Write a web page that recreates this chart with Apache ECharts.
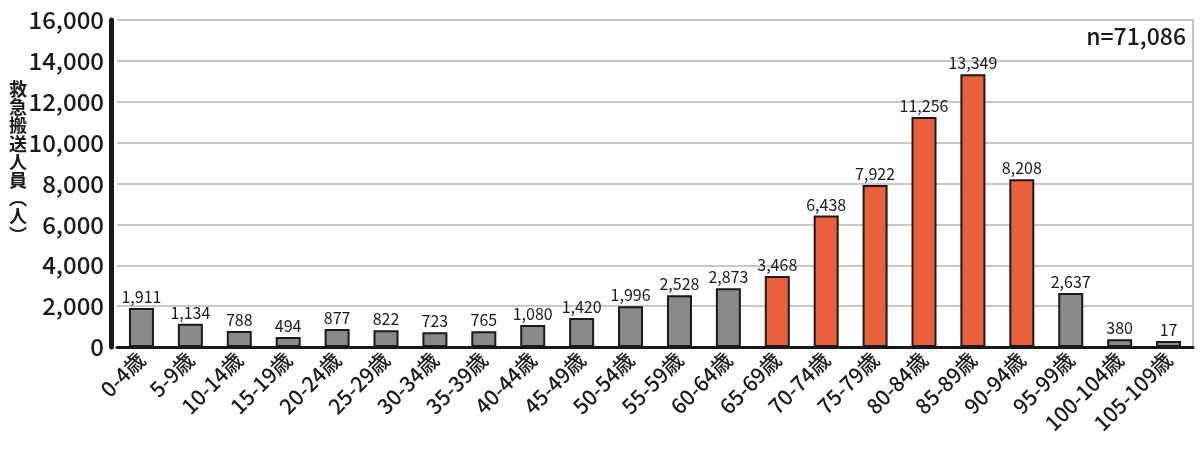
<!DOCTYPE html>
<html><head><meta charset="utf-8">
<script src="https://cdn.jsdelivr.net/npm/echarts@6/dist/echarts.min.js"></script>
<style>html,body{margin:0;padding:0;background:#fff}#c{width:1200px;height:455px}</style>
</head><body><div id="c"></div>
<script>
const categories = ['0-4歳','5-9歳','10-14歳','15-19歳','20-24歳','25-29歳','30-34歳','35-39歳','40-44歳','45-49歳','50-54歳','55-59歳','60-64歳','65-69歳','70-74歳','75-79歳','80-84歳','85-89歳','90-94歳','95-99歳','100-104歳','105-109歳'];
const values = [1911,1134,788,494,877,822,723,765,1080,1420,1996,2528,2873,3468,6438,7922,11256,13349,8208,2637,380,17];
const highlighted = ['65-69歳','70-74歳','75-79歳','80-84歳','85-89歳','90-94歳'];
const yTicks = [0,2000,4000,6000,8000,10000,12000,14000,16000];
const yName = '救急搬送人員︵人︶';
const totalLabel = 'n=71,086';

const FONT = '"Noto Sans CJK JP","Noto Sans",sans-serif';
const chart = echarts.init(document.getElementById('c'));
chart.setOption({
  animation:false,
  textStyle:{fontFamily:FONT},
  grid:{left:117,right:7,top:20,bottom:108},
  graphic:[
    {type:'text',left:9,top:80,style:{text:yName.split('').join('\n'),font:'bold 18px '+FONT,lineHeight:18.2,fill:'#1a1a1a',align:'center'}},
    {type:'text',right:14,top:25,style:{text:totalLabel,font:'500 23px '+FONT,fill:'#1a1a1a'}}
  ],
  xAxis:{type:'category',data:categories,
    axisLine:{lineStyle:{color:'#1a1a1a',width:3}},
    axisTick:{show:false},
    axisLabel:{rotate:45,fontSize:21,color:'#1a1a1a',margin:9,interval:0,fontFamily:FONT,fontWeight:500}},
  yAxis:[{type:'value',min:0,max:16000,interval:2000,offset:6,
    axisLine:{show:true,lineStyle:{color:'#1a1a1a',width:5}},
    axisTick:{show:false},
    splitLine:{lineStyle:{color:'#c8c8c8',width:2}},
    axisLabel:{fontSize:24,color:'#1a1a1a',margin:7,fontFamily:FONT,fontWeight:500,
      formatter:v=>yTicks.includes(v)?v.toLocaleString('en-US'):''}},
   {type:'value',position:'right',min:0,max:16000,interval:2000,
    axisLine:{show:true,lineStyle:{color:'#c4c4c4',width:2}},
    axisTick:{show:false},axisLabel:{show:false},splitLine:{show:false}}],
  series:[{type:'bar',barWidth:25,barMinHeight:6,yAxisIndex:0,
    data:values.map((v,i)=>({value:v,itemStyle:{color:highlighted.includes(categories[i])?'#e8603c':'#8a8a8a'}})),
    itemStyle:{borderColor:'#1a1a1a',borderWidth:2},
    label:{show:true,position:'top',fontSize:16,color:'#1a1a1a',distance:3,fontFamily:FONT,
      formatter:p=>p.value.toLocaleString('en-US')}}]
});
</script></body></html>
